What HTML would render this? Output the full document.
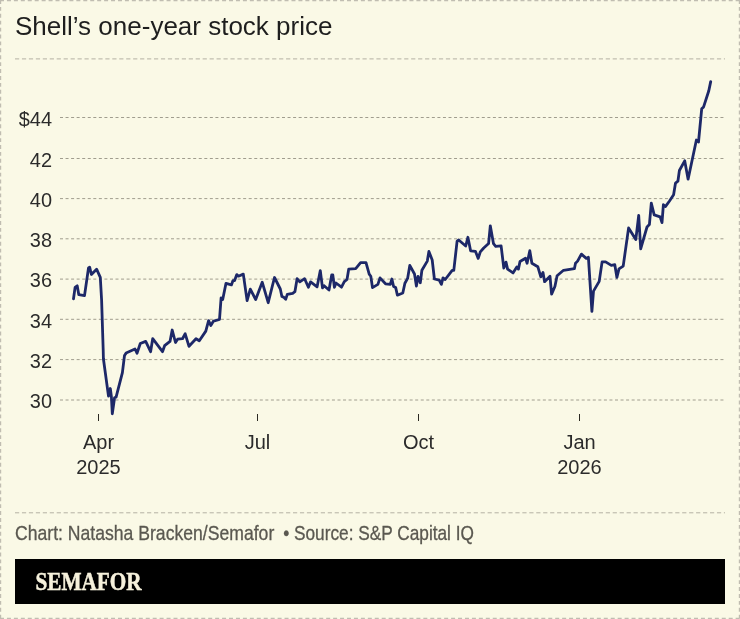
<!DOCTYPE html>
<html><head><meta charset="utf-8"><style>
html,body{margin:0;padding:0;background:#faf9e6;}
svg{display:block;will-change:transform;}
.grid{stroke:#a09d8e;stroke-width:1;stroke-dasharray:3 2.55;}
.sep{stroke:#b4b1a3;stroke-width:1;stroke-dasharray:4.2 2.75;}
.border{stroke:#c0bdb1;stroke-width:1.2;stroke-dasharray:4 2.94;}
.vborder{stroke:#c0bdb1;stroke-width:1.2;stroke-dasharray:3.9 3.007;}
.foot{font-family:"Liberation Sans",sans-serif;font-size:20px;fill:#5a5850;stroke:#5a5850;stroke-width:0.3;}
.tick{stroke:#2b2a22;stroke-width:1;}
.ylab{font-family:"Liberation Sans",sans-serif;font-size:21px;fill:#2b2b2b;text-anchor:end;}
.xlab{font-family:"Liberation Sans",sans-serif;font-size:20px;fill:#2b2b2b;text-anchor:middle;}
</style></head><body>
<svg width="740" height="619" viewBox="0 0 740 619">
<rect x="0" y="0" width="740" height="619" fill="#faf9e6"/>
<line x1="0" y1="0.6" x2="740" y2="0.6" class="border"/>
<line x1="0" y1="618.4" x2="740" y2="618.4" class="border"/>
<line x1="0.6" y1="0" x2="0.6" y2="619" class="vborder"/>
<line x1="739.4" y1="0" x2="739.4" y2="619" class="vborder"/>
<text x="15" y="34.7" style="font-family:'Liberation Sans',sans-serif;font-size:26px;fill:#1e1e1e">Shell’s one-year stock price</text>
<line x1="15" y1="58.9" x2="725" y2="58.9" class="sep"/>
<line x1="60" y1="400.0" x2="724" y2="400.0" class="grid"/>
<line x1="60" y1="359.6" x2="724" y2="359.6" class="grid"/>
<line x1="60" y1="319.3" x2="724" y2="319.3" class="grid"/>
<line x1="60" y1="279.1" x2="724" y2="279.1" class="grid"/>
<line x1="60" y1="238.8" x2="724" y2="238.8" class="grid"/>
<line x1="60" y1="198.6" x2="724" y2="198.6" class="grid"/>
<line x1="60" y1="158.5" x2="724" y2="158.5" class="grid"/>
<line x1="60" y1="117.5" x2="724" y2="117.5" class="grid"/>

<text x="0" y="0" class="ylab" transform="translate(52 408.2) scale(0.95 1)">30</text>
<text x="0" y="0" class="ylab" transform="translate(52 367.8) scale(0.95 1)">32</text>
<text x="0" y="0" class="ylab" transform="translate(52 327.5) scale(0.95 1)">34</text>
<text x="0" y="0" class="ylab" transform="translate(52 287.3) scale(0.95 1)">36</text>
<text x="0" y="0" class="ylab" transform="translate(52 247.0) scale(0.95 1)">38</text>
<text x="0" y="0" class="ylab" transform="translate(52 206.8) scale(0.95 1)">40</text>
<text x="0" y="0" class="ylab" transform="translate(52 166.7) scale(0.95 1)">42</text>
<text x="0" y="0" class="ylab" transform="translate(52 125.7) scale(0.95 1)">$44</text>

<line x1="98.5" y1="414" x2="98.5" y2="421" class="tick"/>
<text x="98.5" y="448.8" class="xlab">Apr</text>
<text x="98.5" y="473.7" class="xlab">2025</text>
<line x1="257.5" y1="414" x2="257.5" y2="421" class="tick"/>
<text x="257.5" y="448.8" class="xlab">Jul</text>
<line x1="418.5" y1="414" x2="418.5" y2="421" class="tick"/>
<text x="418.5" y="448.8" class="xlab">Oct</text>
<line x1="579.5" y1="414" x2="579.5" y2="421" class="tick"/>
<text x="579.5" y="448.8" class="xlab">Jan</text>
<text x="579.5" y="473.7" class="xlab">2026</text>

<path d="M73.5,298.8 L75.1,287.4 L77.2,285.8 L78.8,294.7 L84.5,295.6 L88.5,268.0 L89.7,267.2 L91.4,274.5 L96.6,269.2 L100.3,277.3 L101.6,300.0 L103.2,350.0 L103.4,358.8 L108.5,396.1 L110.3,388.5 L111.4,396.8 L112.3,413.8 L114.6,397.5 L116.1,397.2 L122.4,372.6 L124.5,355.5 L126.1,353.1 L135.0,349.0 L137.0,353.2 L140.3,343.5 L145.7,341.4 L150.6,351.7 L152.7,338.7 L162.5,351.7 L164.6,345.7 L170.0,341.4 L172.2,330.0 L175.5,342.5 L177.6,339.2 L182.5,338.7 L185.2,333.8 L189.0,346.3 L196.0,338.7 L199.3,340.8 L205.8,331.1 L208.6,320.7 L210.8,325.5 L213.5,321.1 L219.5,319.5 L221.1,297.9 L222.7,299.5 L226.0,283.3 L231.4,284.9 L233.0,280.6 L234.6,280.6 L236.8,274.6 L238.4,276.2 L243.3,274.1 L247.1,300.6 L250.3,289.2 L255.7,299.5 L262.2,282.2 L268.2,302.7 L274.5,277.5 L280.3,289.0 L281.9,296.5 L283.5,297.1 L285.7,299.2 L287.3,294.4 L292.7,293.3 L294.9,291.7 L297.1,278.7 L299.8,281.9 L304.6,278.7 L308.4,287.3 L310.6,281.9 L317.1,286.8 L320.3,270.6 L322.5,287.9 L324.1,285.7 L329.0,290.0 L331.7,274.9 L332.8,274.9 L334.4,287.3 L336.0,283.0 L341.5,287.2 L344.3,281.7 L347.0,279.5 L348.7,269.2 L355.7,268.7 L360.6,262.7 L366.0,262.7 L369.2,274.1 L370.8,276.3 L372.5,287.6 L377.9,284.4 L380.0,277.9 L385.5,283.8 L390.3,284.4 L391.9,279.0 L393.6,286.5 L395.7,287.6 L397.4,295.2 L402.8,293.0 L404.9,283.3 L407.6,278.4 L409.8,265.4 L414.5,274.0 L416.4,286.0 L418.0,276.5 L420.3,282.8 L421.9,270.3 L427.3,261.1 L428.9,251.4 L432.2,260.0 L434.4,279.0 L439.2,280.1 L441.4,284.4 L443.0,277.9 L445.2,279.5 L452.2,270.3 L453.8,270.3 L457.1,241.1 L458.7,240.0 L465.7,246.0 L467.9,237.3 L470.6,250.8 L475.5,251.4 L478.2,258.4 L480.3,251.9 L483.7,248.0 L488.6,243.5 L490.3,225.8 L493.5,243.7 L495.7,246.4 L501.1,245.8 L503.8,268.0 L506.0,262.1 L507.6,269.1 L513.0,272.9 L516.8,266.9 L518.4,269.1 L520.0,261.5 L525.5,258.3 L527.1,263.2 L529.8,250.7 L531.9,263.2 L537.8,266.7 L540.8,276.8 L543.0,272.5 L544.6,281.7 L550.0,276.3 L551.6,294.1 L554.9,286.5 L557.1,275.7 L563.5,270.3 L574.4,268.7 L575.5,263.3 L577.6,261.1 L581.4,254.1 L586.3,258.4 L588.4,257.3 L591.9,311.4 L593.5,291.1 L599.2,281.4 L602.1,261.9 L605.6,261.9 L611.3,265.4 L614.8,264.7 L616.9,277.4 L619.0,268.9 L623.2,266.1 L628.6,227.9 L635.8,239.6 L638.7,215.3 L640.7,248.8 L647.0,227.0 L649.4,224.6 L651.3,203.2 L654.2,214.9 L660.1,216.8 L662.0,222.6 L663.4,204.7 L665.4,206.6 L669.5,201.0 L673.6,194.7 L675.5,183.1 L677.9,181.2 L679.4,170.5 L684.7,160.8 L688.1,179.2 L696.4,140.0 L698.5,142.0 L701.7,108.8 L703.6,106.9 L708.8,90.7 L710.7,81.6" fill="none" stroke="#1d2868" stroke-width="2.8" stroke-linejoin="round" stroke-linecap="round"/>
<line x1="15" y1="512.8" x2="725" y2="512.8" class="sep"/>
<text x="0" y="0" class="foot" transform="translate(15 539.7) scale(0.881 1)">Chart: Natasha Bracken/Semafor</text>
<text x="0" y="0" class="foot" transform="translate(286.4 539.7) scale(0.87 1)" text-anchor="middle">•</text>
<text x="0" y="0" class="foot" transform="translate(294 539.7) scale(0.863 1)">Source: S&amp;P Capital IQ</text>
<rect x="15" y="559" width="710" height="45" fill="#000"/>
<text x="0" y="0" style="font-family:'Liberation Serif',serif;font-weight:bold;font-size:25px;fill:#f6f1dc;stroke:#f6f1dc;stroke-width:0.5" transform="translate(35.5 589.6) scale(0.85 1)">SEMAFOR</text>
</svg>
</body></html>
